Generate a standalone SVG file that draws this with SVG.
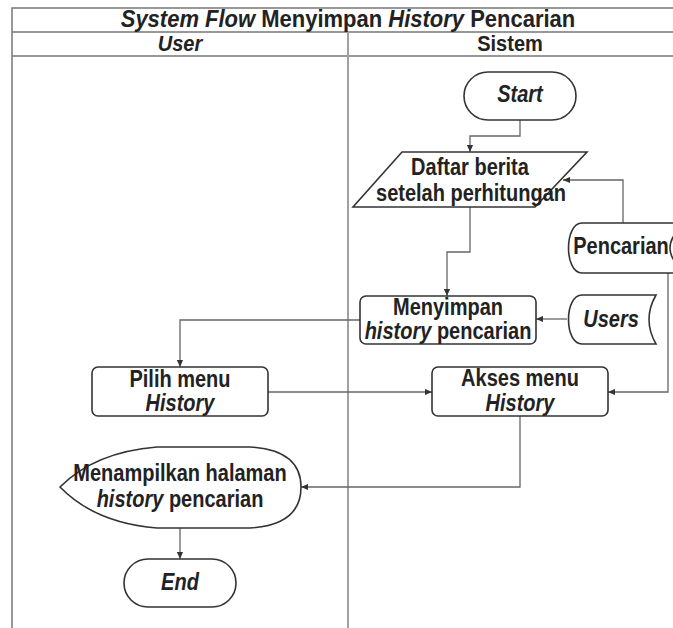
<svg xmlns="http://www.w3.org/2000/svg" width="673" height="628" viewBox="0 0 673 628">
  <style>
    .lane { stroke: #777; stroke-width: 1.5; fill: none; }
    .divider { stroke: #a0a0a0; stroke-width: 2; fill: none; }
    .shape { fill: #fff; stroke: #333; stroke-width: 1.6; }
    .edge { fill: none; stroke: #666; stroke-width: 1.3; marker-end: url(#arrow); }
    text { font-family: "Liberation Sans", Arial, sans-serif; font-weight: bold; font-size: 20px; fill: #222; text-anchor: middle; }
    .it { font-style: italic; }
    .title { font-size: 22px; }
  </style>
  <defs>
    <marker id="arrow" viewBox="0 0 8 8" refX="8" refY="4" markerWidth="7" markerHeight="7" markerUnits="userSpaceOnUse" orient="auto">
      <path d="M0,0.5 L8,4 L0,7.5 Z" fill="#333"/>
    </marker>
  </defs>

  <rect width="673" height="628" fill="#fff"/>

  <!-- swimlane frame -->
  <g id="swimlane">
    <path class="lane" d="M12,628 V8 H673 M12,32 H673 M12,56 H673"/>
    <path class="divider" d="M348,32 V628"/>
    <text class="title" transform="translate(348 27) scale(1 1.06)"><tspan class="it">System Flow</tspan> Menyimpan <tspan class="it">History</tspan> Pencarian</text>
    <text class="it" transform="translate(180 51) scale(1 1.1)">User</text>
    <text transform="translate(510 51) scale(1 1.1)">Sistem</text>
  </g>

  <!-- connectors -->
  <g id="connectors">
    <path class="edge" d="M520,120 V136 H470 V152"/>
    <path class="edge" d="M623,223 V180 H563"/>
    <path class="edge" d="M470,207 V252 H447 V296"/>
    <path class="edge" d="M567,319 H536"/>
    <path class="edge" d="M360,320 H180 V367"/>
    <path class="edge" d="M268,392 H432"/>
    <path class="edge" d="M668,273 V392 H608"/>
    <path class="edge" d="M520,416 V487 H301"/>
    <path class="edge" d="M180,528 V559"/>
  </g>

  <g id="start">
    <rect class="shape" x="464" y="72" width="112" height="48" rx="24" ry="24"/>
    <text class="it" transform="translate(520 102) scale(1 1.15)">Start</text>
  </g>

  <g id="daftar-berita">
    <path class="shape" d="M402,152 H587 L535,207 H353 Z"/>
    <text transform="translate(470 175) scale(1 1.15)">Daftar berita</text>
    <text transform="translate(471 201) scale(1 1.15)">setelah perhitungan</text>
  </g>

  <g id="pencarian">
    <path class="shape" d="M582,223 H686 Q654,248 686,273 H582 C564,273 564,223 582,223 Z"/>
    <text transform="translate(621 254) scale(1 1.15)">Pencarian</text>
  </g>

  <g id="users">
    <path class="shape" d="M582,295 H656 Q642,319.5 656,344 H582 C564,344 564,295 582,295 Z"/>
    <text class="it" transform="translate(611 327) scale(1 1.15)">Users</text>
  </g>

  <g id="menyimpan">
    <rect class="shape" x="360" y="296" width="176" height="48" rx="6" ry="6"/>
    <text transform="translate(448 315) scale(1 1.15)">Menyimpan</text>
    <text transform="translate(448 339) scale(1 1.15)"><tspan class="it">history</tspan> pencarian</text>
  </g>

  <g id="pilih-menu">
    <rect class="shape" x="92" y="367" width="176" height="49" rx="6" ry="6"/>
    <text transform="translate(180 387) scale(1 1.15)">Pilih menu</text>
    <text class="it" transform="translate(180 411) scale(1 1.15)">History</text>
  </g>

  <g id="akses-menu">
    <rect class="shape" x="432" y="367" width="176" height="49" rx="6" ry="6"/>
    <text transform="translate(520 386) scale(1 1.15)">Akses menu</text>
    <text class="it" transform="translate(520 411) scale(1 1.15)">History</text>
  </g>

  <g id="tampil-history">
    <path class="shape" d="M60,487 Q95,452 157,447 H250 Q301,450 301,487 Q301,525 250,528 H157 Q95,523 60,487 Z"/>
    <text transform="translate(180 481) scale(1 1.15)">Menampilkan halaman</text>
    <text transform="translate(180 507) scale(1 1.15)"><tspan class="it">history</tspan> pencarian</text>
  </g>

  <g id="end">
    <rect class="shape" x="124" y="559" width="112" height="48" rx="24" ry="24"/>
    <text class="it" transform="translate(180 590) scale(1 1.15)">End</text>
  </g>
</svg>
